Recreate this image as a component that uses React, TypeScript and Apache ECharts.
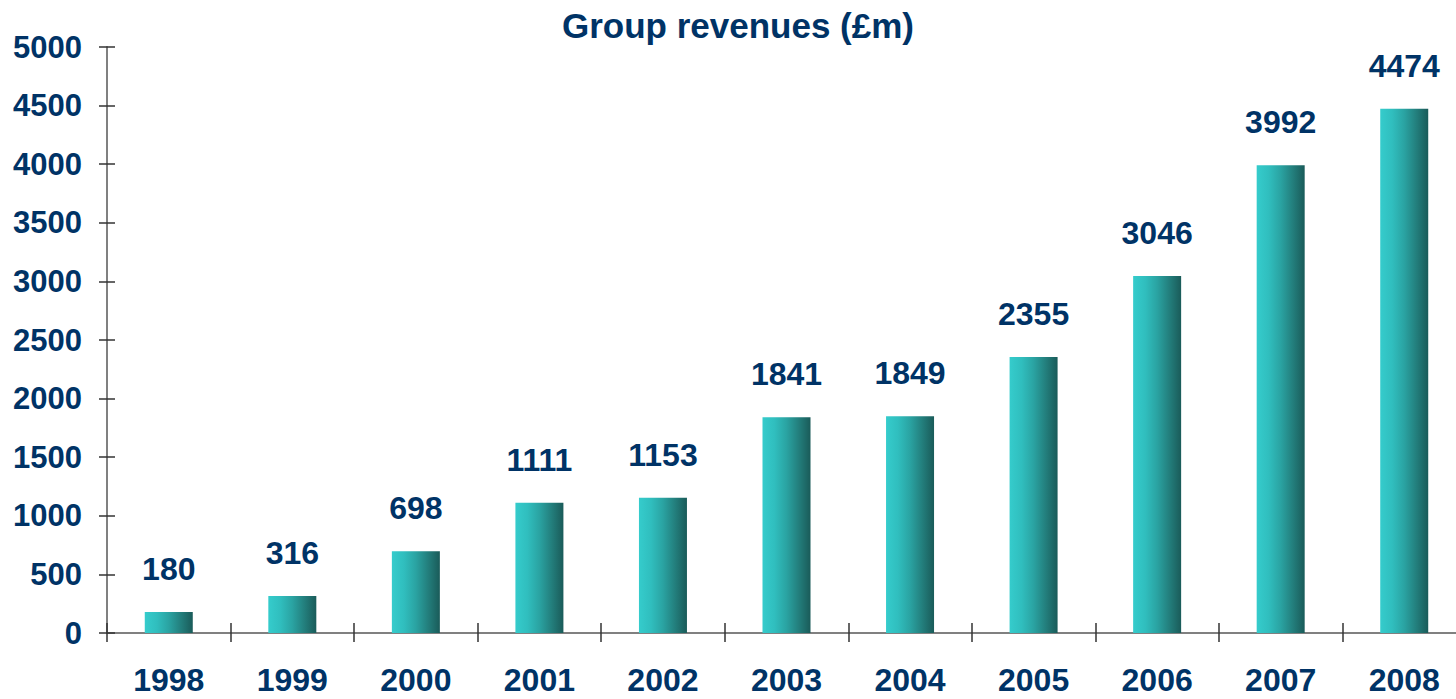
import React, { useEffect, useRef } from "react";
import * as echarts from "echarts";

const years = ["1998", "1999", "2000", "2001", "2002", "2003", "2004", "2005", "2006", "2007", "2008"];
const revenues = [180, 316, 698, 1111, 1153, 1841, 1849, 2355, 3046, 3992, 4474];
const titleText = "Group revenues (£m)";

const NAVY = "#003366";
const FONT = "Liberation Sans, Arial, sans-serif";

export default function App() {
  const ref = useRef<HTMLDivElement>(null);
  useEffect(() => {
    if (!ref.current) return;
    const chart = echarts.init(ref.current, undefined, { renderer: "svg" });
    const grad = new echarts.graphic.LinearGradient(0, 0, 1, 0, [
      { offset: 0, color: "#35cccc" },
      { offset: 0.25, color: "#30bebe" },
      { offset: 0.5, color: "#2aa3a2" },
      { offset: 0.75, color: "#237f7d" },
      { offset: 1, color: "#1a5b59" },
    ]);
    const axisLineStyle = { color: "#808080", width: 2 };
    chart.setOption({
      animation: false,
      backgroundColor: "#ffffff",
      title: {
        text: titleText,
        left: 733,
        textAlign: "center",
        top: 3,
        textStyle: { color: NAVY, fontFamily: FONT, fontWeight: "bold", fontSize: 35 },
      },
      grid: { left: 107, right: 14, top: 47, bottom: 66, containLabel: false },
      xAxis: [
        {
          type: "category",
          data: years,
          boundaryGap: true,
          axisLine: { show: true, lineStyle: axisLineStyle },
          axisTick: { show: true, inside: false, length: 9, lineStyle: { color: "#333333", width: 1.5 } },
          axisLabel: {
            color: NAVY,
            fontFamily: FONT,
            fontWeight: "bold",
            fontSize: 32,
            margin: 31,
            interval: 0,
          },
        },
        {
          type: "category",
          data: years,
          position: "bottom",
          offset: 0,
          boundaryGap: true,
          axisLine: { show: false },
          axisTick: { show: true, inside: true, length: 10, lineStyle: { color: "#333333", width: 1.5 } },
          axisLabel: { show: false },
        },
      ],
      yAxis: [
        {
          type: "value",
          min: 0,
          max: 5000,
          interval: 500,
          axisLine: { show: true, lineStyle: axisLineStyle },
          axisTick: { show: true, inside: false, length: 8, lineStyle: { color: "#333333", width: 1.5 } },
          splitLine: { show: false },
          axisLabel: {
            color: NAVY,
            fontFamily: FONT,
            fontWeight: "bold",
            fontSize: 31,
            margin: 25,
            formatter: (v: number) => String(v),
          },
        },
        {
          type: "value",
          min: 0,
          max: 5000,
          interval: 500,
          position: "left",
          offset: 0,
          axisLine: { show: false },
          axisTick: { show: true, inside: true, length: 8, lineStyle: { color: "#333333", width: 1.5 } },
          splitLine: { show: false },
          axisLabel: { show: false },
        },
      ],
      series: [
        {
          type: "bar",
          data: revenues,
          xAxisIndex: 0,
          yAxisIndex: 0,
          barWidth: 48,
          itemStyle: { color: grad },
          label: {
            show: true,
            position: "top",
            distance: 27,
            color: NAVY,
            fontFamily: FONT,
            fontWeight: "bold",
            fontSize: 32,
          },
        },
      ],
    });
    return () => chart.dispose();
  }, []);
  return (
    <div style={{ position: "absolute", left: 0, top: 0, width: 1456, height: 699, overflow: "hidden" }}>
      <div ref={ref} style={{ width: 1480, height: 699 }} />
    </div>
  );
}
